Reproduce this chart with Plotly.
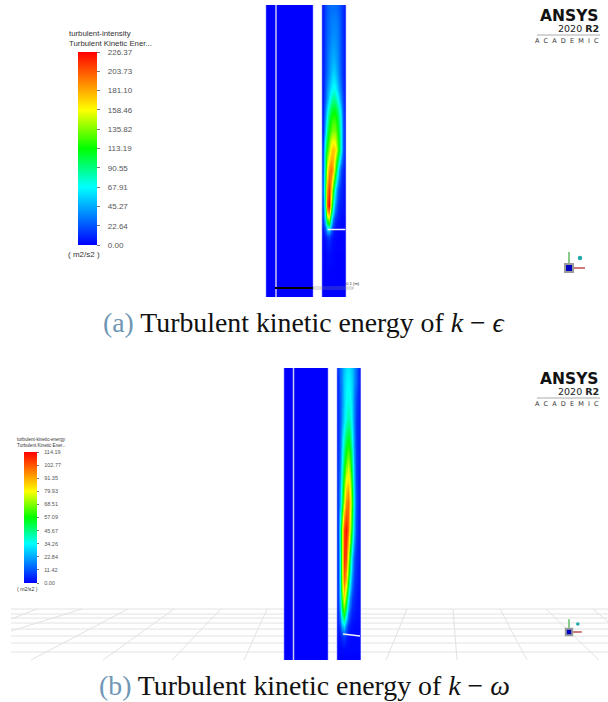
import plotly.graph_objects as go

# ---- colour scale of the contour legends
rainbow = [[0, "#0000ff"], [0.15, "#0080ff"], [0.3, "#00ffff"], [0.4, "#00ff80"], [0.5, "#00ff00"],
           [0.6, "#80ff00"], [0.7, "#ffff00"], [0.85, "#ff8000"], [1, "#ff0000"]]

# ---- panel (a) k-epsilon, m2/s2
a_ticks = [0.00, 22.64, 45.27, 67.91, 90.55, 113.19, 135.82, 158.46, 181.10, 203.73, 226.37]
a_x = [323, 325, 327, 329, 331, 333, 335, 337, 339, 341, 343, 345]
a_y_edges = [5, 17, 45, 68, 82, 95, 107, 122, 140, 160, 180, 198, 213, 224, 232, 241, 270, 297]
a_z = [
    [8, 18, 24, 28, 30, 30, 30, 28, 24, 18, 12, 6],
    [8, 18, 26, 30, 34, 36, 36, 34, 28, 20, 12, 6],
    [8, 18, 28, 36, 42, 46, 44, 38, 30, 20, 12, 6],
    [8, 20, 30, 40, 50, 58, 55, 45, 34, 22, 12, 6],
    [8, 22, 38, 50, 62, 70, 68, 56, 42, 28, 14, 6],
    [8, 25, 45, 64, 82, 92, 90, 78, 60, 38, 18, 6],
    [10, 35, 66, 92, 108, 116, 114, 104, 86, 58, 22, 8],
    [10, 48, 90, 114, 128, 136, 134, 120, 98, 66, 25, 8],
    [20, 84, 118, 142, 166, 176, 168, 140, 108, 66, 25, 8],
    [25, 90, 155, 188, 196, 178, 130, 85, 45, 20, 10, 5],
    [30, 100, 186, 210, 175, 115, 70, 35, 18, 10, 6, 4],
    [25, 85, 205, 226, 140, 80, 40, 20, 10, 6, 5, 3],
    [18, 60, 130, 150, 80, 35, 15, 8, 5, 3, 2, 2],
    [8, 25, 60, 70, 35, 12, 6, 3, 2, 2, 2, 2],
    [2, 6, 14, 18, 10, 4, 2, 1, 1, 1, 1, 1],
    [1, 1, 2, 3, 2, 1, 1, 0, 0, 0, 0, 0],
    [0, 0, 0, 0, 0, 0, 0, 0, 0, 0, 0, 0],
]

# ---- panel (b) k-omega, m2/s2
b_ticks = [0.00, 11.42, 22.84, 34.26, 45.67, 57.09, 68.51, 79.93, 91.35, 102.77, 114.19]
b_x = [338, 340, 342, 344, 346, 348, 350, 352, 354, 356, 358, 360]
b_y_edges = [368, 374, 390, 410, 430, 450, 470, 490, 515, 545, 570, 590, 608, 621, 631, 643, 655, 660]
b_z = [
    [8, 14, 20, 26, 30, 32, 30, 26, 20, 14, 8, 4],
    [6, 14, 20, 28, 32, 34, 32, 28, 20, 14, 8, 4],
    [6, 12, 20, 28, 34, 36, 35, 28, 18, 10, 6, 3],
    [6, 12, 22, 30, 38, 42, 40, 30, 18, 8, 5, 3],
    [6, 14, 28, 40, 50, 56, 50, 36, 20, 8, 5, 3],
    [7, 16, 34, 50, 62, 70, 62, 44, 22, 9, 5, 3],
    [8, 20, 42, 62, 78, 84, 74, 52, 26, 10, 5, 3],
    [8, 25, 50, 75, 95, 100, 85, 60, 30, 12, 6, 3],
    [8, 40, 75, 105, 112, 100, 75, 50, 25, 10, 5, 3],
    [8, 35, 75, 108, 105, 78, 50, 28, 12, 6, 4, 2],
    [8, 35, 75, 100, 88, 60, 35, 18, 8, 5, 3, 2],
    [8, 30, 62, 80, 62, 35, 18, 8, 5, 3, 2, 2],
    [6, 20, 45, 56, 38, 18, 8, 4, 3, 2, 2, 1],
    [4, 10, 24, 30, 16, 6, 3, 2, 1, 1, 1, 1],
    [2, 3, 6, 8, 4, 2, 1, 1, 1, 1, 1, 1],
    [1, 1, 1, 1, 1, 1, 1, 1, 1, 1, 1, 1],
    [0, 0, 0, 0, 0, 0, 0, 0, 0, 0, 0, 0],
]

# ---- uniform blue left channels
a_left_x = [266, 313]
a_left_y = [5, 297]
b_left_x = [284, 328]
b_left_y = [368, 660]
blank_z = [[0]]

# ---- perspective floor of panel (b)
floor_rows = [609, 614, 618, 623, 629, 636, 643, 652]
floor_rays = [((11, 619), (37, 609)), ((11, 631), (82, 609)), ((31, 660), (128, 609)), ((103, 660), (174, 609)),
              ((172, 660), (221, 609)), ((244, 660), (267, 609)), ((386, 660), (407, 609)), ((457, 660), (453, 609)),
              ((527, 660), (500, 609)), ((599, 660), (546, 609)), ((608, 622), (593, 609))]

fig = go.Figure()
GRID = "#e2e2e2"
NB = "\u00a0"

shapes = []
for yr in floor_rows:
    shapes.append(dict(type="line", xref="x", yref="y", x0=11, x1=608, y0=yr, y1=yr, layer="below",
                       line=dict(color=GRID, width=1)))
for p, q in floor_rays:
    shapes.append(dict(type="line", xref="x", yref="y", x0=p[0], x1=q[0], y0=p[1], y1=q[1], layer="below",
                       line=dict(color=GRID, width=1)))

def bar(x, y, thick, text_col="#555555", size=8):
    return dict(
        x=x, y=y, xanchor="left", xpad=0, yanchor="bottom", ypad=0, lenmode="pixels", thicknessmode="pixels",
        thickness=thick, outlinewidth=0,
        tickmode="array", ticks="outside", ticklen=3, tickwidth=1, tickcolor="#777777",
        tickfont=dict(family="Liberation Sans", size=size, color=text_col),
    )

# left channels
for xs, ys, zmax in ((a_left_x, a_left_y, a_ticks[-1]), (b_left_x, b_left_y, b_ticks[-1])):
    fig.add_trace(go.Heatmap(x=xs, y=ys, z=blank_z, zmin=0, zmax=zmax, colorscale=rainbow,
                             showscale=False, hoverinfo="skip"))

cb_a = bar(78 / 608, 1 - 245 / 702, 19)
cb_a.update(len=193, tickvals=a_ticks, ticktext=[NB * 3 + f"{v:.2f}" for v in a_ticks])
fig.add_trace(go.Heatmap(x=a_x, y=a_y_edges, z=a_z, zmin=0, zmax=a_ticks[-1], colorscale=rainbow,
                         zsmooth="best", colorbar=cb_a))
cb_b = bar(23.5 / 608, 1 - 583 / 702, 12.5, size=5.5)
cb_b.update(len=131, tickvals=b_ticks, ticktext=[NB * 3 + f"{v:.2f}" for v in b_ticks], ticklen=2)
fig.add_trace(go.Heatmap(x=b_x, y=b_y_edges, z=b_z, zmin=0, zmax=b_ticks[-1], colorscale=rainbow,
                         zsmooth="best", colorbar=cb_b))

# thin light lines on the channels
def seg(xs, ys, color, width):
    fig.add_trace(go.Scatter(x=xs, y=ys, mode="lines", line=dict(color=color, width=width), hoverinfo="skip"))

seg([276, 276], [5, 297], "#c9c9ee", 1.5)
seg([293.5, 293.5], [368, 660], "#c9c9ee", 1.5)
seg([327.5, 345.5], [229.5, 229.5], "#f2f2fb", 1.5)
seg([343, 360], [634, 636], "#f2f2fb", 1.5)
for xe, ys in ((266, a_left_y), (313, a_left_y), (322, a_left_y), (345.8, a_left_y),
               (284, b_left_y), (328, b_left_y), (337, b_left_y), (360.5, b_left_y)):
    seg([xe, xe], ys, "rgba(140,140,255,0.55)", 1)

# scale bar of panel (a)
seg([275, 313], [288, 288], "#000000", 2)
seg([313, 353], [287, 287], "#888888", 0.5)
seg([313, 353], [289, 289], "#888888", 0.5)
seg([353, 353], [287, 289], "#888888", 0.5)

# triads
for cx, cy, k in ((569, 268, 1.0), (569, 632, 0.8)):
    seg([cx, cx], [cy, cy - 16 * k], "#88cc88", 2)
    seg([cx, cx + 16 * k], [cy, cy], "#cc7a7a", 2)
    fig.add_trace(go.Scatter(x=[cx], y=[cy], mode="markers", hoverinfo="skip",
                             marker=dict(symbol="square", size=8 * k, color="#0000c0",
                                         line=dict(color="#9a9a9a", width=2))))
    fig.add_trace(go.Scatter(x=[cx + 11 * k], y=[cy - 10 * k], mode="markers", hoverinfo="skip",
                             marker=dict(size=4.5 * k, color="#22aaaa")))

anns = []
def txt(x, y, s, size, color="#333333", family="Liberation Sans", anchor="left"):
    anns.append(dict(x=x, y=y, xref="x", yref="y", text=s, showarrow=False, xanchor=anchor, yanchor="middle",
                     borderpad=0, font=dict(family=family, size=size, color=color)))

txt(68, 33, "turbulent-intensity", 7.8)
txt(68, 43, "Turbulent Kinetic Ener...", 7.8)
txt(67, 254, "( m2/s2 )", 8)
txt(16, 439, "turbulent-kinetic-energy", 4.6)
txt(16, 445, "Turbulent Kinetic Ener...", 4.6)
txt(16, 589, "( m2/s2 )", 5.2)
txt(361, 283, "0.1 (m)", 4.2, anchor="right")

ACAD = (NB * 2).join("ACADEMIC")
for y0 in (0, 363):
    txt(600, y0 + 15.5, "<b>ANSYS</b>", 15.5, "#111111", "DejaVu Sans", "right")
    txt(600, y0 + 28.5, "2020 <b>R2</b>", 9.5, "#222222", "DejaVu Sans", "right")
    txt(600, y0 + 41, ACAD, 6.5, "#333333", "DejaVu Sans", "right")
    seg([537, 600], [y0 + 35, y0 + 35], "#aaaaaa", 1)

CAP = "#6f97b5"
txt(304, 322, f'<span style="color:{CAP}">(a)</span> Turbulent kinetic energy of <i>k</i> − <i>ϵ</i>',
    27.8, "#111111", "Liberation Serif", "center")
txt(304, 685, f'<span style="color:{CAP}">(b)</span> Turbulent kinetic energy of <i>k</i> − <i>ω</i>',
    27.8, "#111111", "Liberation Serif", "center")

fig.update_layout(
    width=608, height=702, margin=dict(l=0, r=0, t=0, b=0, autoexpand=False),
    paper_bgcolor="white", plot_bgcolor="white", showlegend=False, annotations=anns, shapes=shapes,
    xaxis=dict(range=[0, 608], visible=False, fixedrange=True),
    yaxis=dict(range=[702, 0], visible=False, fixedrange=True),
)
fig.write_html("out.html", config=dict(displayModeBar=False),
               post_script="document.body.style.margin='0';document.body.style.overflow='hidden';")
